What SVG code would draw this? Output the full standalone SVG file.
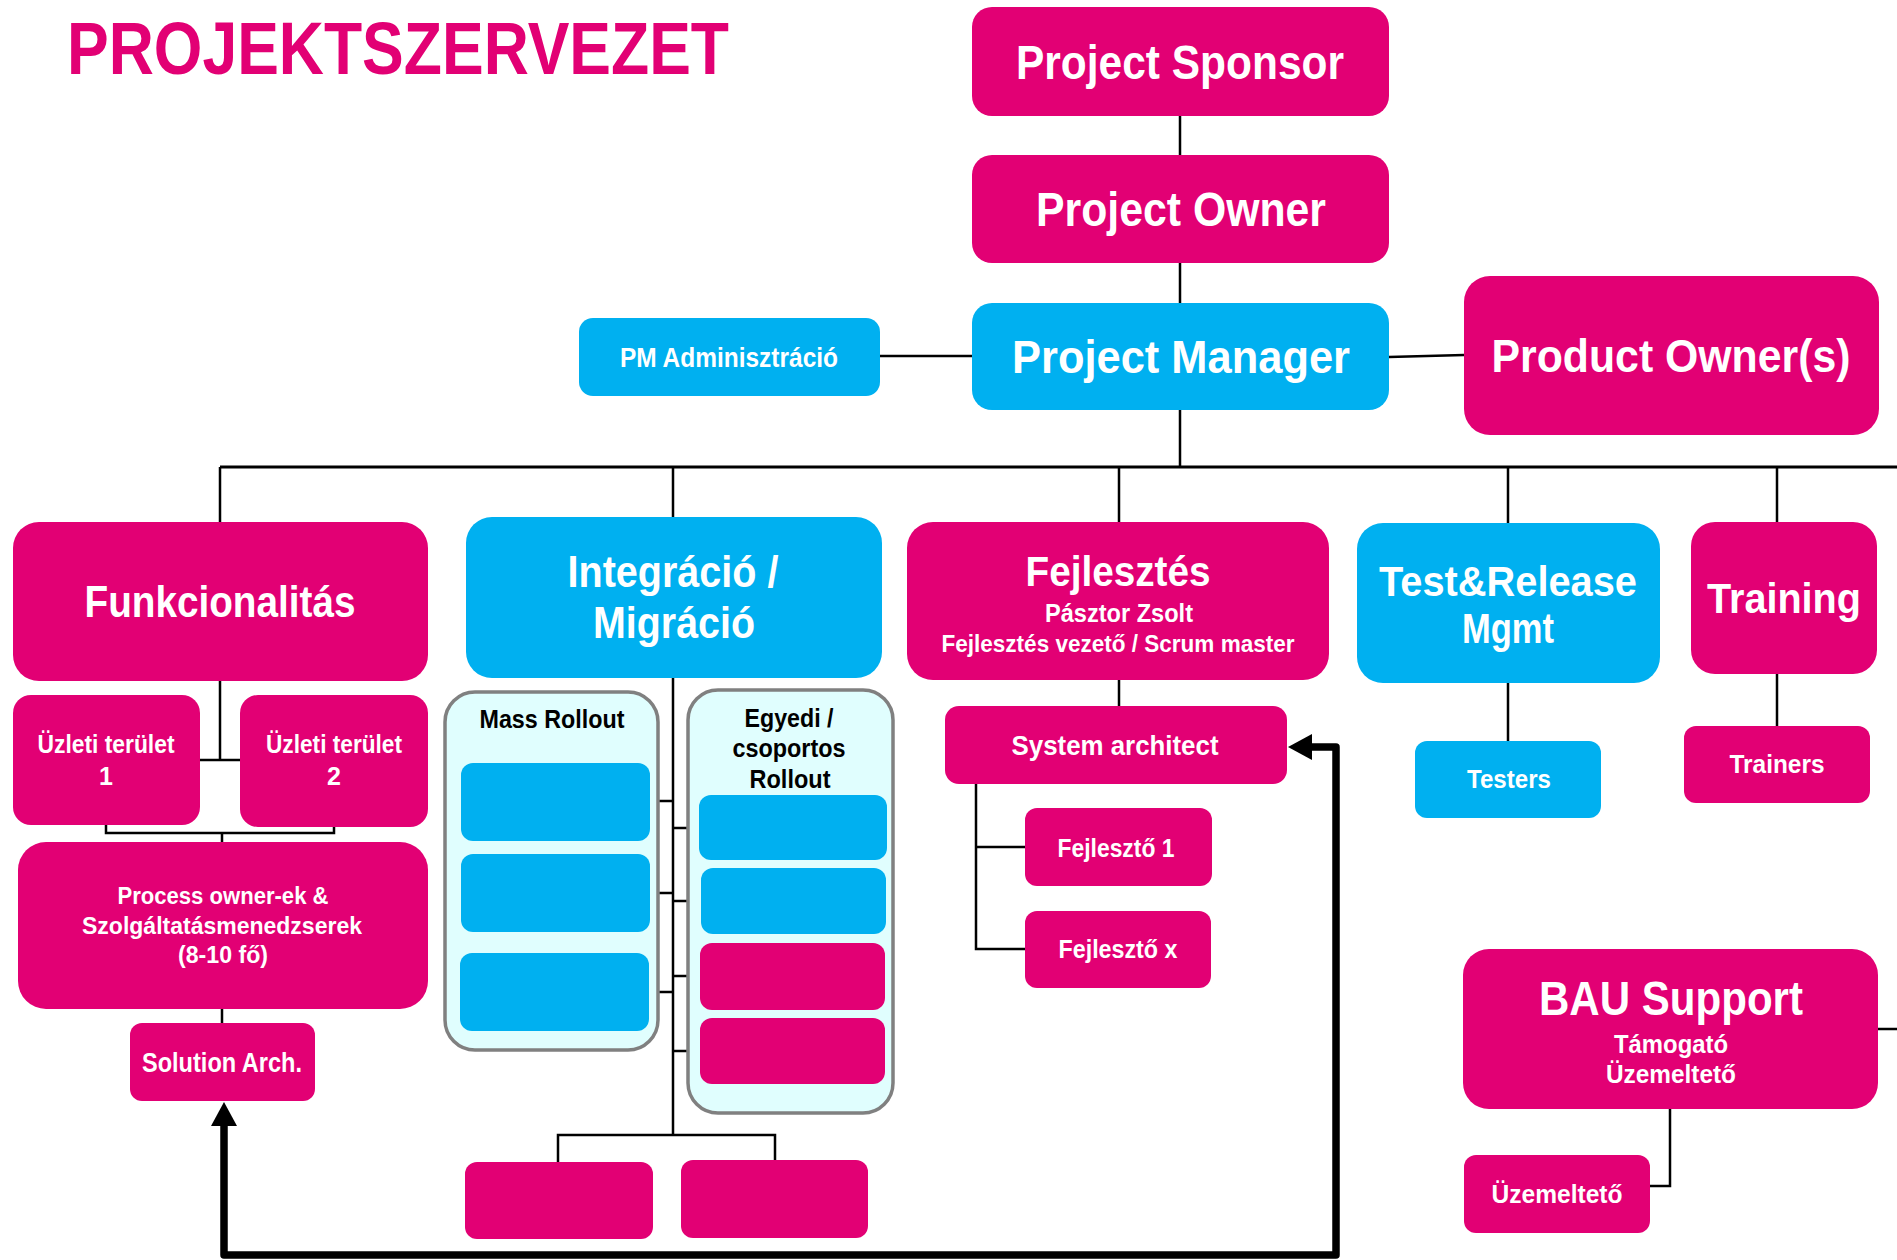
<svg xmlns="http://www.w3.org/2000/svg" width="1897" height="1260" viewBox="0 0 1897 1260">
<style>
.m{fill:#E20074}
.b{fill:#00B0F0}
.c{fill:#E0FEFE;stroke:#808080;stroke-width:3.5}
text{font-family:"Liberation Sans",Arial,sans-serif;font-weight:bold;fill:#fff;text-anchor:middle}
.k{fill:#000}
.ln{fill:none;stroke:#000;stroke-width:2.5}
.th{fill:none;stroke:#000;stroke-width:7.5;stroke-linejoin:round}
</style>
<defs>
<marker id="ah" markerUnits="userSpaceOnUse" markerWidth="24" markerHeight="26" refX="0" refY="13" orient="auto-start-reverse" viewBox="0 0 24 26">
<path d="M0,0 L24,13 L0,26 z" fill="#000"/>
</marker>
</defs>
<rect width="1897" height="1260" fill="#fff"/>
<text x="67" y="74" font-size="75" textLength="662" lengthAdjust="spacingAndGlyphs" style="fill:#E20074;text-anchor:start">PROJEKTSZERVEZET</text>

<g id="connectors">
<path class="ln" d="M1180 116V155M1180 263V303M1180 410V467"/>
<path class="ln" d="M880 356H972M1389 357L1464 355"/>
<path class="ln" style="stroke-width:3" d="M220 467H1897"/>
<path class="ln" d="M220 467V522M673 467V517M1119 467V522M1508 467V523M1777 467V522"/>
<path class="ln" d="M220 681V760M200 760H240M106 825V833H334V827M222 833V842M222 1009V1023"/>
<path class="ln" d="M673 678V1135M650 801H673M650 893H673M650 992H673M673 828H700M673 901H700M673 976H700M673 1051H700M558 1162V1135H775V1160"/>
<path class="ln" d="M1119 680V706M976 784V949H1025M976 847H1025"/>
<path class="ln" d="M1508 683V741M1777 674V726"/>
<path class="ln" d="M1878 1029H1897M1670 1102V1186H1650"/>
<path class="th" d="M224 1126V1255H1336V747H1312" marker-start="url(#ah)" marker-end="url(#ah)"/>
</g>

<g id="sponsor"><rect class="m" x="972" y="7" width="417" height="109" rx="20"/><text x="1180" y="79" font-size="49" textLength="328" lengthAdjust="spacingAndGlyphs">Project Sponsor</text></g>
<g id="owner"><rect class="m" x="972" y="155" width="417" height="108" rx="20"/><text x="1181" y="226" font-size="48" textLength="290" lengthAdjust="spacingAndGlyphs">Project Owner</text></g>
<g id="pm"><rect class="b" x="972" y="303" width="417" height="107" rx="20"/><text x="1181" y="373" font-size="47" textLength="338" lengthAdjust="spacingAndGlyphs">Project Manager</text></g>
<g id="pmadmin"><rect class="b" x="579" y="318" width="301" height="78" rx="14"/><text x="729" y="367" font-size="27" textLength="218" lengthAdjust="spacingAndGlyphs">PM Adminisztráció</text></g>
<g id="productowner"><rect class="m" x="1464" y="276" width="415" height="159" rx="26"/><text x="1671" y="372" font-size="47" textLength="359" lengthAdjust="spacingAndGlyphs">Product Owner(s)</text></g>

<g id="funk"><rect class="m" x="13" y="522" width="415" height="159" rx="26"/><text x="220" y="617" font-size="45" textLength="271" lengthAdjust="spacingAndGlyphs">Funkcionalitás</text></g>
<g id="integr"><rect class="b" x="466" y="517" width="416" height="161" rx="26"/><text x="673" y="587" font-size="45" textLength="211" lengthAdjust="spacingAndGlyphs">Integráció /</text><text x="674" y="638" font-size="45" textLength="162" lengthAdjust="spacingAndGlyphs">Migráció</text></g>
<g id="fejl"><rect class="m" x="907" y="522" width="422" height="158" rx="26"/><text x="1118" y="586" font-size="43" textLength="185" lengthAdjust="spacingAndGlyphs">Fejlesztés</text><text x="1119" y="622" font-size="26" textLength="148" lengthAdjust="spacingAndGlyphs">Pásztor Zsolt</text><text x="1118" y="652" font-size="24" textLength="353" lengthAdjust="spacingAndGlyphs">Fejlesztés vezető / Scrum master</text></g>
<g id="test"><rect class="b" x="1357" y="523" width="303" height="160" rx="26"/><text x="1508" y="596" font-size="43" textLength="258" lengthAdjust="spacingAndGlyphs">Test&amp;Release</text><text x="1508" y="643" font-size="43" textLength="92" lengthAdjust="spacingAndGlyphs">Mgmt</text></g>
<g id="training"><rect class="m" x="1691" y="522" width="186" height="152" rx="24"/><text x="1784" y="613" font-size="42" textLength="154" lengthAdjust="spacingAndGlyphs">Training</text></g>

<g id="uzl1"><rect class="m" x="13" y="695" width="187" height="130" rx="18"/><text x="106" y="753" font-size="25" textLength="137" lengthAdjust="spacingAndGlyphs">Üzleti terület</text><text x="106" y="785" font-size="25">1</text></g>
<g id="uzl2"><rect class="m" x="240" y="695" width="188" height="132" rx="18"/><text x="334" y="753" font-size="25" textLength="136" lengthAdjust="spacingAndGlyphs">Üzleti terület</text><text x="334" y="785" font-size="25">2</text></g>
<g id="process"><rect class="m" x="18" y="842" width="410" height="167" rx="28"/><text x="223" y="904" font-size="23" textLength="211" lengthAdjust="spacingAndGlyphs">Process owner-ek &amp;</text><text x="222" y="934" font-size="23" textLength="280" lengthAdjust="spacingAndGlyphs">Szolgáltatásmenedzserek</text><text x="223" y="963" font-size="23" textLength="90" lengthAdjust="spacingAndGlyphs">(8-10 fő)</text></g>
<g id="solution"><rect class="m" x="130" y="1023" width="185" height="78" rx="12"/><text x="222" y="1072" font-size="27" textLength="160" lengthAdjust="spacingAndGlyphs">Solution Arch.</text></g>

<g id="mass"><rect class="c" x="445" y="692" width="213" height="358" rx="30"/><text class="k" x="552" y="728" font-size="25" textLength="145" lengthAdjust="spacingAndGlyphs">Mass Rollout</text>
<rect class="b" x="461" y="763" width="189" height="78" rx="12"/><rect class="b" x="461" y="854" width="189" height="78" rx="12"/><rect class="b" x="460" y="953" width="189" height="78" rx="12"/></g>
<g id="egyedi"><rect class="c" x="688" y="690" width="205" height="423" rx="30"/><text class="k" x="789" y="727" font-size="26" textLength="89" lengthAdjust="spacingAndGlyphs">Egyedi /</text><text class="k" x="789" y="757" font-size="26" textLength="113" lengthAdjust="spacingAndGlyphs">csoportos</text><text class="k" x="790" y="788" font-size="26" textLength="81" lengthAdjust="spacingAndGlyphs">Rollout</text>
<rect class="b" x="699" y="795" width="188" height="65" rx="12"/><rect class="b" x="701" y="868" width="185" height="66" rx="12"/><rect class="m" x="700" y="943" width="185" height="67" rx="12"/><rect class="m" x="700" y="1018" width="185" height="66" rx="12"/></g>
<g id="bottom1"><rect class="m" x="465" y="1162" width="188" height="77" rx="12"/></g>
<g id="bottom2"><rect class="m" x="681" y="1160" width="187" height="78" rx="12"/></g>

<g id="sysarch"><rect class="m" x="945" y="706" width="342" height="78" rx="14"/><text x="1115" y="755" font-size="27" textLength="207" lengthAdjust="spacingAndGlyphs">System architect</text></g>
<g id="fejl1"><rect class="m" x="1025" y="808" width="187" height="78" rx="12"/><text x="1116" y="857" font-size="26" textLength="117" lengthAdjust="spacingAndGlyphs">Fejlesztő 1</text></g>
<g id="fejlx"><rect class="m" x="1025" y="911" width="186" height="77" rx="12"/><text x="1118" y="958" font-size="26" textLength="119" lengthAdjust="spacingAndGlyphs">Fejlesztő x</text></g>
<g id="testers"><rect class="b" x="1415" y="741" width="186" height="77" rx="12"/><text x="1509" y="788" font-size="25" textLength="84" lengthAdjust="spacingAndGlyphs">Testers</text></g>
<g id="trainers"><rect class="m" x="1684" y="726" width="186" height="77" rx="12"/><text x="1777" y="773" font-size="25" textLength="95" lengthAdjust="spacingAndGlyphs">Trainers</text></g>
<g id="bau"><rect class="m" x="1463" y="949" width="415" height="160" rx="26"/><text x="1671" y="1015" font-size="48" textLength="264" lengthAdjust="spacingAndGlyphs">BAU Support</text><text x="1671" y="1053" font-size="25" textLength="114" lengthAdjust="spacingAndGlyphs">Támogató</text><text x="1671" y="1083" font-size="25" textLength="130" lengthAdjust="spacingAndGlyphs">Üzemeltető</text></g>
<g id="uzem"><rect class="m" x="1464" y="1155" width="186" height="78" rx="12"/><text x="1557" y="1203" font-size="25" textLength="131" lengthAdjust="spacingAndGlyphs">Üzemeltető</text></g>
</svg>
